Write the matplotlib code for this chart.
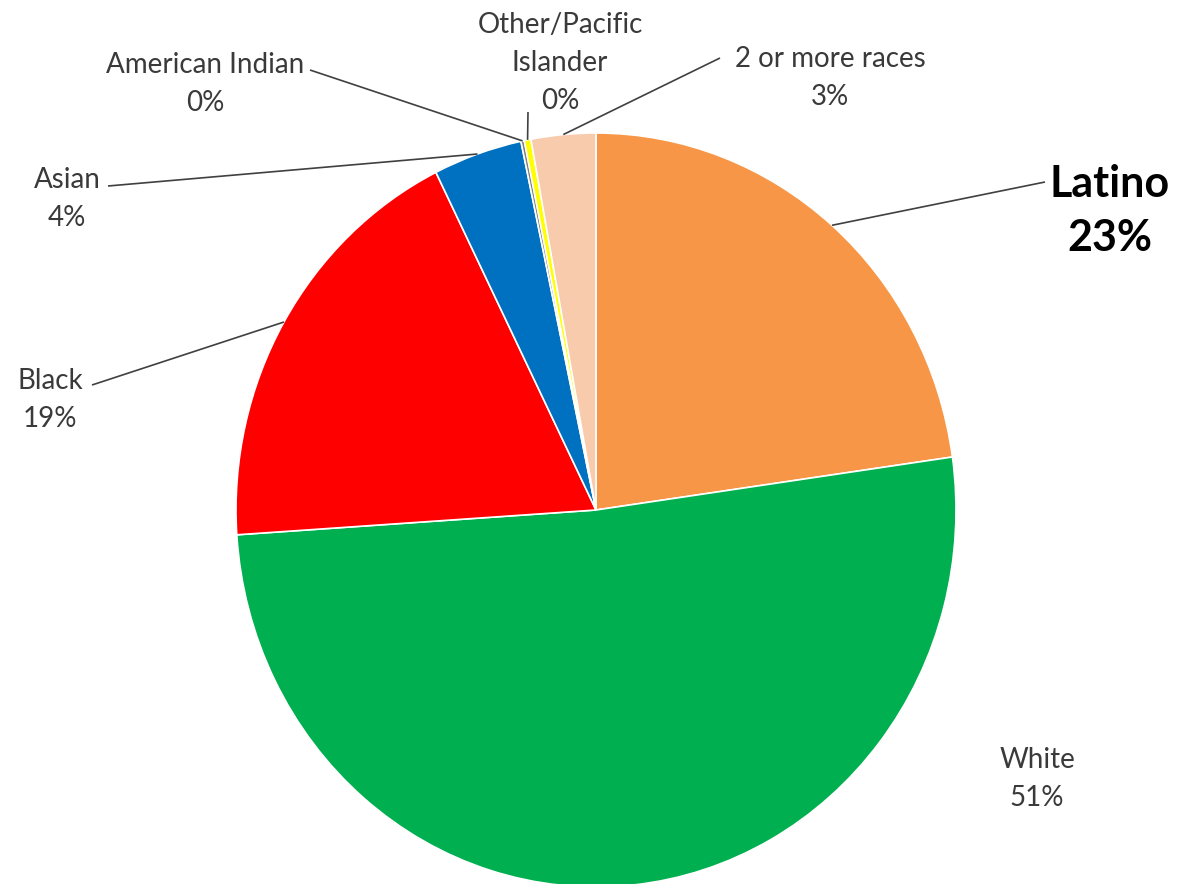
import numpy as np
import matplotlib.pyplot as plt

# slices clockwise from 12 o'clock
groups = ['Latino', 'White', 'Black', 'Asian', 'American Indian',
          'Other/Pacific\nIslander', '2 or more races']
shares = [22.8, 51.3, 18.75, 4.0, 0.15, 0.3, 2.9]
colors = ['#F79646', '#00B050', '#FF0000', '#0070C0', '#7F7F7F', '#FFFF00', '#F8CBAD']

W, H = 1188, 884
cx, cy, rx, ry = 596, 510, 360, 377

fig = plt.figure(figsize=(W / 100, H / 100), dpi=100)
ax = fig.add_axes([0, 0, 1, 1])

wedges, _ = ax.pie(shares, colors=colors, startangle=90, counterclock=False,
                   radius=1, wedgeprops=dict(edgecolor='white', linewidth=1.2))

# map data so the pie lands where it sits in the reference
ax.set_aspect('auto')
ax.set_xlim(-cx / rx, (W - cx) / rx)
ax.set_ylim(-(H - cy) / ry, cy / ry)
ax.axis('off')


def px(x, y):
    # pixel position -> data coords
    return (x - cx) / rx, (cy - y) / ry


total = sum(shares)
pct = [f"{round(v / total * 100):.0f}%" for v in shares]

# label centre (px), line start (px), with leader?
layout = [
    ((1110, 211), (1045, 182), True),
    ((1037, 779), None, False),
    ((50, 400), (92, 385), True),
    ((67, 199), (108, 186), True),
    ((205, 84), (310, 70), True),
    ((560, 63), (528, 112), True),
    ((830, 78), (720, 58), True),
]

font = 'Lato'
for i, (g, (tpos, lpos, lead)) in enumerate(zip(groups, layout)):
    w = wedges[i]
    mid = np.deg2rad((w.theta1 + w.theta2) / 2)
    anchor = (np.cos(mid), np.sin(mid))
    tx, ty = px(*tpos)
    if i == 0:
        ax.text(tx, ty, f"{g}\n{pct[i]}", ha='center', va='center', fontsize=31,
                fontweight='bold', family=font, color='black', linespacing=1.45)
    else:
        ax.text(tx, ty, f"{g}\n{pct[i]}", ha='center', va='center', fontsize=20,
                family=font, color='#3a3a3a', linespacing=1.55)
    if lead:
        sx, sy = px(*lpos)
        ax.plot([sx, anchor[0]], [sy, anchor[1]], color='#404040', lw=1.2,
                solid_capstyle='butt')

fig.savefig('out.png', dpi=100)
